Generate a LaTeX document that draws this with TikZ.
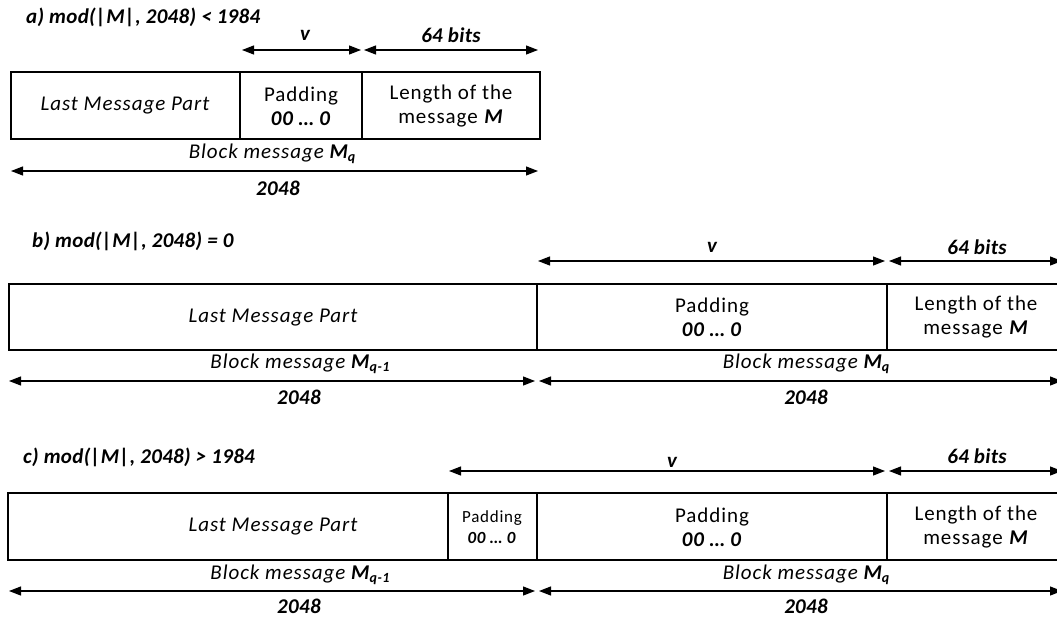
\documentclass[tikz,border=0pt]{standalone}
\usepackage{fontspec}
\setmainfont{Carlito}
\newfontfamily\bodyfont{Carlito}[LetterSpace=4.5]
\newfontfamily\lblfont{Carlito}[LetterSpace=1.5]
\usetikzlibrary{arrows.meta}
\newcommand{\bi}[1]{\textbf{\textit{#1}}}
\newcommand{\msub}[1]{\raisebox{-0.35ex}{\fontsize{14}{14}\selectfont\bfseries\itshape #1}}
\begin{document}
\begin{tikzpicture}[x=1pt,y=-1pt,
  txt/.style={font=\bodyfont\fontsize{21}{24}\selectfont, align=center, inner sep=0pt},
  small/.style={font=\bodyfont\fontsize{17}{21}\selectfont, align=center, inner sep=0pt},
  ttl/.style={font=\lblfont\fontsize{21}{24}\selectfont\bfseries\itshape, anchor=west, inner sep=0pt},
  lbl/.style={font=\lblfont\fontsize{21}{24}\selectfont\bfseries\itshape, inner sep=0pt},
  frame/.style={draw, line width=2.4pt},
  div/.style={line width=1.2pt},
  thickdiv/.style={line width=2pt},
  dimarrow/.style={line width=1.2pt, {Triangle[length=12pt,width=9pt]}-{Triangle[length=12pt,width=9pt]}}]
\useasboundingbox (0,0) rectangle (1057,618);

% ---------------- a ----------------
\node[ttl] (ta) at (26,17) {a) mod(|M|, 2048) < 1984};
\coordinate (av1) at (242,50); \coordinate (av2) at (361,50);
\coordinate (ab1) at (364,50); \coordinate (ab2) at (538,50);
\draw[dimarrow] (av1) -- (av2);
\draw[dimarrow] (ab1) -- (ab2);
\node[lbl] (alv) at (305,35) {v};
\node[lbl] (alb) at (451,35) {64 bits};
\draw[frame] (11,72) rectangle (540,139);
\draw[div] (240,72) -- (240,139);
\draw[div] (362,72) -- (362,139);
\node[txt] (a1) at (125,106) {\itshape Last Message Part};
\node[txt] (a2) at (301,106) {Padding\\\bi{00 … 0}};
\node[txt] (a3) at (451,106) {Length of the\\message \bi{M}};
\node[txt] (abm) at (272,154) {\itshape Block message \bi{M}\msub{q}};
\coordinate (aw1) at (11,171); \coordinate (aw2) at (538,171);
\draw[dimarrow] (aw1) -- (aw2);
\node[lbl] (a2048) at (278,188) {2048};

% ---------------- b ----------------
\node[ttl] (tb) at (32,241) {b) mod(|M|, 2048) = 0};
\coordinate (bv1) at (538,261); \coordinate (bv2) at (885,261);
\coordinate (bb1) at (889,261); \coordinate (bb2) at (1062,261);
\draw[dimarrow] (bv1) -- (bv2);
\draw[dimarrow] (bb1) -- (bb2);
\node[lbl] (blv) at (712,247) {v};
\node[lbl] (blb) at (977,247) {64 bits};
\draw[frame] (9,284) rectangle (1070,350);
\draw[thickdiv] (537,284) -- (537,350);
\draw[div] (887,284) -- (887,350);
\node[txt] (b1) at (273,318) {\itshape Last Message Part};
\node[txt] (b2) at (712,317) {Padding\\\bi{00 … 0}};
\node[txt] (b3) at (976,317) {Length of the\\message \bi{M}};
\node[txt] (bbm1) at (300,364) {\itshape Block message \bi{M}\msub{q-1}};
\node[txt] (bbm2) at (806,364) {\itshape Block message \bi{M}\msub{q}};
\coordinate (bw1) at (9,381); \coordinate (bw2) at (535,381);
\coordinate (bw3) at (539,381); \coordinate (bw4) at (1062,381);
\draw[dimarrow] (bw1) -- (bw2);
\draw[dimarrow] (bw3) -- (bw4);
\node[lbl] (b2048a) at (299,397) {2048};
\node[lbl] (b2048b) at (806,397) {2048};

% ---------------- c ----------------
\node[ttl] (tc) at (23,457) {c) mod(|M|, 2048) > 1984};
\coordinate (cv1) at (449,471); \coordinate (cv2) at (885,471);
\coordinate (cb1) at (889,471); \coordinate (cb2) at (1062,471);
\draw[dimarrow] (cv1) -- (cv2);
\draw[dimarrow] (cb1) -- (cb2);
\node[lbl] (clv) at (672,462) {v};
\node[lbl] (clb) at (977,456) {64 bits};
\draw[frame] (8,493) rectangle (1070,560);
\draw[div] (448,493) -- (448,560);
\draw[thickdiv] (537,493) -- (537,560);
\draw[div] (887,493) -- (887,560);
\node[txt] (c1) at (273,527) {\itshape Last Message Part};
\node[small] (c2) at (492,527) {Padding\\\bi{00 … 0}};
\node[txt] (c3) at (712,527) {Padding\\\bi{00 … 0}};
\node[txt] (c4) at (976,527) {Length of the\\message \bi{M}};
\node[txt] (cbm1) at (300,575) {\itshape Block message \bi{M}\msub{q-1}};
\node[txt] (cbm2) at (806,575) {\itshape Block message \bi{M}\msub{q}};
\coordinate (cw1) at (9,591); \coordinate (cw2) at (535,591);
\coordinate (cw3) at (539,591); \coordinate (cw4) at (1062,591);
\draw[dimarrow] (cw1) -- (cw2);
\draw[dimarrow] (cw3) -- (cw4);
\node[lbl] (c2048a) at (299,606) {2048};
\node[lbl] (c2048b) at (806,606) {2048};
\end{tikzpicture}
\end{document}
